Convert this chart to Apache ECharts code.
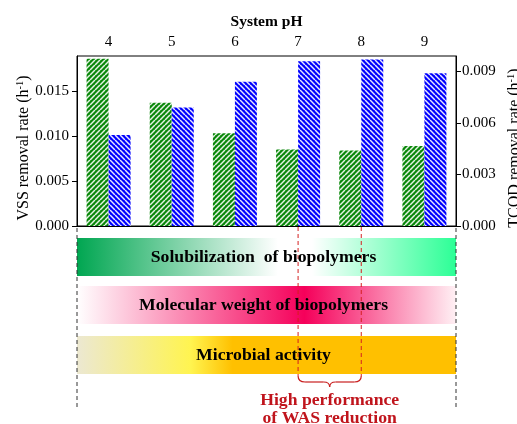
<!DOCTYPE html>
<html>
<head>
<meta charset="utf-8">
<script src="https://cdn.jsdelivr.net/npm/echarts@6/dist/echarts.min.js"></script>
<style>
  html, body { margin: 0; padding: 0; background: #fff; }
  #chart { width: 517px; height: 424px; }
</style>
</head>
<body>
<div id="chart"></div>
<script>
// pH levels and removal rates
const phLabels = ['4', '5', '6', '7', '8', '9'];
const vssRate = [0.0186, 0.0137, 0.0103, 0.0085, 0.0084, 0.0089];
const tcodRate = [0.0053, 0.0069, 0.0084, 0.0096, 0.0097, 0.0089];
const vssTicks = [0, 0.005, 0.010, 0.015];
const tcodTicks = [0, 0.003, 0.006, 0.009];

// annotation bands below the plot
const bandTexts = ['Solubilization  of biopolymers', 'Molecular weight of biopolymers', 'Microbial activity'];
const highlightRange = ['7', '8'];
const highlightText = ['High performance', 'of WAS reduction'];

const SERIF = '"Liberation Serif", "Times New Roman", serif';

function stripePattern(base, line, dir) {
  const s = 5;
  const c = document.createElement('canvas');
  c.width = s; c.height = s;
  const ctx = c.getContext('2d');
  ctx.fillStyle = base;
  ctx.fillRect(0, 0, s, s);
  ctx.strokeStyle = line;
  ctx.lineWidth = 1.5;
  for (const k of [-s, 0, s]) {
    ctx.beginPath();
    if (dir === '/') { ctx.moveTo(k, s); ctx.lineTo(k + s, 0); }
    else { ctx.moveTo(k, 0); ctx.lineTo(k + s, s); }
    ctx.stroke();
  }
  return { image: c, repeat: 'repeat' };
}

const chart = echarts.init(document.getElementById('chart'), null, { renderer: 'canvas' });

const nameRich = {
  a: { fontSize: 16, fontFamily: SERIF, color: '#000', lineHeight: 18 },
  s: { fontSize: 10.5, fontFamily: SERIF, color: '#000', lineHeight: 10, verticalAlign: 'top' }
};

const option = {
  animation: false,
  backgroundColor: '#fff',
  grid: { left: 77, top: 56, width: 379, height: 170, show: true, borderColor: '#000', borderWidth: 1,
    outerBoundsMode: 'none', containLabel: false },
  xAxis: {
    type: 'category',
    position: 'top',
    data: phLabels,
    name: 'System pH',
    nameLocation: 'middle',
    nameGap: 26,
    nameMoveOverlap: false,
    nameTextStyle: { fontFamily: SERIF, fontSize: 15.5, fontWeight: 'bold', color: '#000' },
    axisLine: { lineStyle: { color: '#000', width: 1 } },
    axisTick: { alignWithLabel: true, length: 5, lineStyle: { color: '#000' } },
    axisLabel: { fontFamily: SERIF, fontSize: 15, color: '#000', margin: 6 },
    splitLine: { show: false }
  },
  yAxis: [
    {
      type: 'value', min: 0, max: 0.0189, position: 'left',
      name: '{a|VSS removal rate (h}{s|-1}{a|)}',
      nameLocation: 'middle', nameGap: 44, nameRotate: 90, nameMoveOverlap: false,
      nameTextStyle: { rich: nameRich, padding: [0, 14, 0, 0] },
      axisLine: { show: true, lineStyle: { color: '#000' } },
      axisTick: { show: true, length: 5, customValues: vssTicks, lineStyle: { color: '#000' } },
      axisLabel: { customValues: vssTicks, fontFamily: SERIF, fontSize: 15, color: '#000', margin: 8,
        formatter: v => v.toFixed(3) },
      splitLine: { show: false }
    },
    {
      type: 'value', min: 0, max: 0.0099, position: 'right',
      name: '{a|TCOD removal rate (h}{s|-1}{a|)}',
      nameLocation: 'middle', nameGap: 50, nameRotate: 90, nameMoveOverlap: false,
      nameTextStyle: { rich: nameRich, padding: [0, 14, 0, 0] },
      axisLine: { show: true, lineStyle: { color: '#000' } },
      axisTick: { show: true, length: 5, customValues: tcodTicks, lineStyle: { color: '#000' } },
      axisLabel: { customValues: tcodTicks, fontFamily: SERIF, fontSize: 15, color: '#000', margin: 6,
        formatter: v => v.toFixed(3) },
      splitLine: { show: false }
    }
  ],
  series: [
    {
      name: 'VSS', type: 'bar', yAxisIndex: 0, data: vssRate,
      barWidth: 22, barGap: '0%',
      itemStyle: { color: stripePattern('#0a880a', '#e4f2e4', '/') }
    },
    {
      name: 'TCOD', type: 'bar', yAxisIndex: 1, data: tcodRate,
      barWidth: 22, barGap: '0%',
      itemStyle: { color: stripePattern('#0000ff', '#e8e8ff', '\\') }
    }
  ]
};

chart.setOption(option);

// annotation graphics placed from the grid and category positions
const step = chart.convertToPixel({ xAxisIndex: 0 }, phLabels[1]) - chart.convertToPixel({ xAxisIndex: 0 }, phLabels[0]);
const left = chart.convertToPixel({ xAxisIndex: 0 }, phLabels[0]) - step / 2;
const right = chart.convertToPixel({ xAxisIndex: 0 }, phLabels[phLabels.length - 1]) + step / 2;
const base = chart.convertToPixel({ yAxisIndex: 0 }, 0);
const w = right - left;
const hx1 = chart.convertToPixel({ xAxisIndex: 0 }, highlightRange[0]);
const hx2 = chart.convertToPixel({ xAxisIndex: 0 }, highlightRange[1]);

const bandH = 38;
const bandTops = [base + 12, base + 60, base + 110];
const grads = [
  [[0, '#00a651'], [0.53, '#ffffff'], [0.62, '#ffffff'], [1, '#2cff96']],
  [[0, '#ffffff'], [0.6, '#f5005a'], [1, '#fff0f4']],
  [[0, '#ece8d2'], [0.3, '#fff450'], [0.41, '#ffc000'], [1, '#ffc000']]
];

const graphics = [];
bandTexts.forEach((t, i) => {
  graphics.push({
    type: 'rect', z: 1,
    shape: { x: left, y: bandTops[i], width: w, height: bandH },
    style: {
      fill: { type: 'linear', x: 0, y: 0, x2: 1, y2: 0,
        colorStops: grads[i].map(s => ({ offset: s[0], color: s[1] })) }
    }
  });
  graphics.push({
    type: 'text', z: 3,
    x: left + w / 2 - 3, y: bandTops[i] + bandH / 2,
    style: { text: t, fontFamily: SERIF, fontSize: 17.7, fontWeight: 'bold', fill: '#000',
      align: 'center', verticalAlign: 'middle' }
  });
});

// black dashed extent markers
[left, right].forEach(x => {
  graphics.push({
    type: 'line', z: 2,
    shape: { x1: x, y1: base + 2, x2: x, y2: base + 184 },
    style: { stroke: '#333', lineWidth: 1, lineDash: [4, 3] }
  });
});
// red dashed highlight markers
[hx1, hx2].forEach(x => {
  graphics.push({
    type: 'line', z: 2,
    shape: { x1: x, y1: base + 1, x2: x, y2: base + 150 },
    style: { stroke: '#d42020', lineWidth: 1, lineDash: [4, 3] }
  });
});
// curly brace under the highlighted range
const by0 = base + 150, by1 = base + 156, by2 = base + 161, mid = (hx1 + hx2) / 2;
const braceStyle = { stroke: '#c81e1e', lineWidth: 1.2, fill: null };
const braceParts = [
  { type: 'bezierCurve', shape: { x1: hx1, y1: by0, cpx1: hx1, cpy1: by1, x2: hx1 + 7, y2: by1 } },
  { type: 'line', shape: { x1: hx1 + 7, y1: by1, x2: mid - 6, y2: by1 } },
  { type: 'bezierCurve', shape: { x1: mid - 6, y1: by1, cpx1: mid, cpy1: by1, x2: mid, y2: by2 } },
  { type: 'bezierCurve', shape: { x1: mid, y1: by2, cpx1: mid, cpy1: by1, x2: mid + 6, y2: by1 } },
  { type: 'line', shape: { x1: mid + 6, y1: by1, x2: hx2 - 7, y2: by1 } },
  { type: 'bezierCurve', shape: { x1: hx2 - 7, y1: by1, cpx1: hx2, cpy1: by1, x2: hx2, y2: by0 } }
];
braceParts.forEach(p => graphics.push(Object.assign({ z: 2, style: braceStyle }, p)));

highlightText.forEach((t, i) => {
  graphics.push({
    type: 'text', z: 3,
    x: mid, y: base + 174 + i * 18,
    style: { text: t, fontFamily: SERIF, fontSize: 17.7, fontWeight: 'bold', fill: '#c0141c',
      align: 'center', verticalAlign: 'middle' }
  });
});

chart.setOption({ graphic: graphics });
</script>
</body>
</html>
